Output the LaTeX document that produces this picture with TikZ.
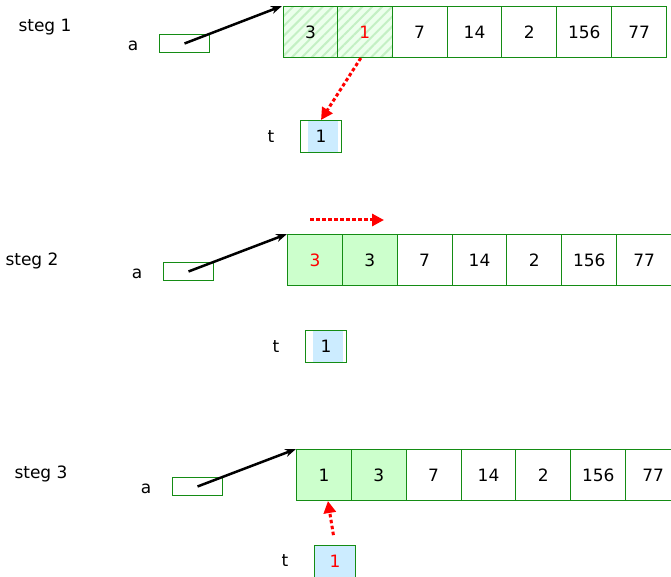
\documentclass[tikz,border=0pt]{standalone}
\usepackage{fontspec}
\setmainfont{DejaVu Sans}
\usetikzlibrary{arrows.meta,patterns.meta}
\definecolor{arrgreen}{RGB}{20,140,20}
\definecolor{cellfill}{RGB}{204,255,204}
\definecolor{hatchbg}{RGB}{236,255,236}
\definecolor{hatchline}{RGB}{196,240,196}
\definecolor{tfill}{RGB}{204,236,255}
\tikzset{
  cell/.style={draw=arrgreen, line width=1pt, minimum width=54.86pt, minimum height=51pt,
    inner sep=0pt, anchor=north west, font=\fontsize{17}{17}\selectfont},
  hatched/.style={preaction={fill=hatchbg}, pattern={Lines[angle=45,distance=7pt,line width=2pt]}, pattern color=hatchline},
  abox/.style={draw=arrgreen, line width=1pt, minimum width=50pt, minimum height=18pt,
    inner sep=0pt, anchor=north west},
  tbox/.style={draw=arrgreen, line width=1pt, minimum width=41pt, minimum height=32pt,
    inner sep=0pt, anchor=north west, font=\fontsize{17}{17}\selectfont},
  inset/.style={path picture={\fill[tfill] ([xshift=7pt]path picture bounding box.south west)
    rectangle ([xshift=-4pt]path picture bounding box.north east);}},
  lbl/.style={font=\fontsize{17}{17}\selectfont},
  ptr/.style={line width=2.5pt, -{Stealth[length=11pt,width=8pt]}},
  move/.style={red, line width=3pt, dash pattern=on 3.5pt off 2.5pt, -{Triangle[length=12pt,width=12pt]}}
}
\begin{document}
\begin{tikzpicture}[x=1pt,y=-1pt]
			%%%%% START %%%%%
			\useasboundingbox (0,0) rectangle (671,577);
			
			% steg 1
			\node[lbl] (steg1) at (45,27) {steg 1};
			\node[lbl] (alab1) at (133,46) {a};
			\node[abox] (a1) at (159,34) {};
			\node[cell, hatched] (r1c1) at (282,6) {3};
			\node[cell, hatched, text=red] (r1c2) at (336.86,6) {1};
			\foreach \v [count=\i from 3] in {7,14,2,156,77}
				\node[cell] (r1c\i) at ({282+(\i-1)*54.86},6) {\v};
			\node[lbl] (tlab1) at (271,137) {t};
			\node[tbox, inset] (t1) at (300,120) {1};
			\draw[ptr] (a1.center) -- (r1c1.north west);
			\draw[move] ([xshift=-4pt]r1c2.south) -- (t1.north);
			
			% steg 2
			\node[lbl] (steg2) at (32,261) {steg 2};
			\node[lbl] (alab2) at (137,274) {a};
			\node[abox] (a2) at (163,262) {};
			\node[cell, fill=cellfill, text=red] (r2c1) at (287,234) {3};
			\node[cell, fill=cellfill] (r2c2) at (341.86,234) {3};
			\foreach \v [count=\i from 3] in {7,14,2,156,77}
				\node[cell] (r2c\i) at ({287+(\i-1)*54.86},234) {\v};
			\node[lbl] (tlab2) at (276,347) {t};
			\node[tbox, inset] (t2) at (305,330) {1};
			\coordinate (m2a) at (310,220);
			\coordinate (m2b) at (384,220);
			\draw[ptr] (a2.center) -- (r2c1.north west);
			\draw[move] (m2a) -- (m2b);
			
			% steg 3
			\node[lbl] (steg3) at (41,474) {steg 3};
			\node[lbl] (alab3) at (146,489) {a};
			\node[abox] (a3) at (172,477) {};
			\node[cell, fill=cellfill] (r3c1) at (296,449) {1};
			\node[cell, fill=cellfill] (r3c2) at (350.86,449) {3};
			\foreach \v [count=\i from 3] in {7,14,2,156,77}
				\node[cell] (r3c\i) at ({296+(\i-1)*54.86},449) {\v};
			\node[lbl] (tlab3) at (285,561) {t};
			\node[tbox, fill=tfill, text=red] (t3) at (314,545) {1};
			\draw[ptr] (a3.center) -- (r3c1.north west);
			\draw[move, shorten <=10pt] (t3.north) -- ([xshift=4pt]r3c1.south);
			
			%%%%% END %%%%%
\end{tikzpicture}
\end{document}
